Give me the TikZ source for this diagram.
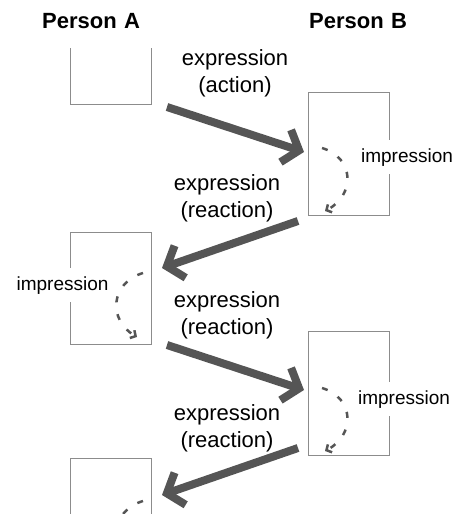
\documentclass[tikz,border=0pt]{standalone}
\usepackage{fontspec}
\setmainfont{Liberation Sans}
\usepackage{tikz}
\usetikzlibrary{arrows.meta}
\definecolor{arrowgray}{HTML}{555555}
\definecolor{boxgray}{HTML}{8C8C8C}

\begin{document}
\begin{tikzpicture}[x=1pt, y=-1pt,
  mind/.style={draw=boxgray, line width=1pt, minimum width=81pt, inner sep=0pt},
  person/.style={font=\fontsize{22}{26}\selectfont\bfseries, fill=white, inner sep=0pt,
    text width=116pt, align=left, text height=16pt, text depth=20pt, anchor=base west},
  expr/.style={font=\fontsize{22}{27}\selectfont, align=center},
  impr/.style={font=\fontsize{19}{22}\selectfont, fill=white, inner sep=8pt,
    text height=14pt, text depth=4pt},
  flow/.style={draw=arrowgray, line width=8pt, -{Straight Barb[length=14pt, width=34pt]}},
  turn/.style={draw=arrowgray, line width=2.5pt, dash pattern=on 6pt off 12pt,
    -{Straight Barb[length=4pt, width=9pt]}}]
\useasboundingbox (0,0) rectangle (459,514);
\clip (0,0) rectangle (459,514);

% the boxes, one per turn
\node[mind, minimum height=79pt] (a1) at (110.5,64.5) {};
\node[mind, minimum height=123pt] (b1) at (348.5,153.5) {};
\node[mind, minimum height=112pt] (a2) at (110.5,288) {};
\node[mind, minimum height=124pt] (b2) at (348.5,393) {};
\node[mind, minimum height=124pt] (a3) at (110.5,520) {};

% heads
\node[person] (pa) at (42,28) {Person A};
\node[person] (pb) at (309,28) {Person B};

% what goes from one to the other
\node[expr] (x1) at (235,73.5) {expression\\(action)};
\node[expr] (x2) at (227,198.5) {expression\\(reaction)};
\node[expr] (x3) at (227,315.5) {expression\\(reaction)};
\node[expr] (x4) at (227,428) {expression\\(reaction)};

% what comes in
\node[impr] (i1) at (407,157) {impression};
\node[impr] (i2) at (62.5,285) {impression};
\node[impr] (i3) at (404,399) {impression};

\coordinate (s1) at (167,107);
\coordinate (t1) at (304,152);
\coordinate (s2) at (298,221);
\coordinate (t2) at (162,268);
\coordinate (s3) at (167,345);
\coordinate (t3) at (304,390);
\coordinate (s4) at (298,448);
\coordinate (t4) at (162,495);

\draw[flow] (s1) -- (t1);
\draw[flow] (s2) -- (t2);
\draw[flow] (s3) -- (t3);
\draw[flow] (s4) -- (t4);

% turning it over inside
\draw[turn] (322,148) .. controls (355,158) and (355,195) .. (325,211);
\draw[turn] (143,273) .. controls (110,283) and (108,320) .. (137,337);
\draw[turn] (322,388) .. controls (355,398) and (355,435) .. (325,451);
\draw[turn] (143,501) .. controls (110,511) and (108,548) .. (137,565);
\end{tikzpicture}
\end{document}
